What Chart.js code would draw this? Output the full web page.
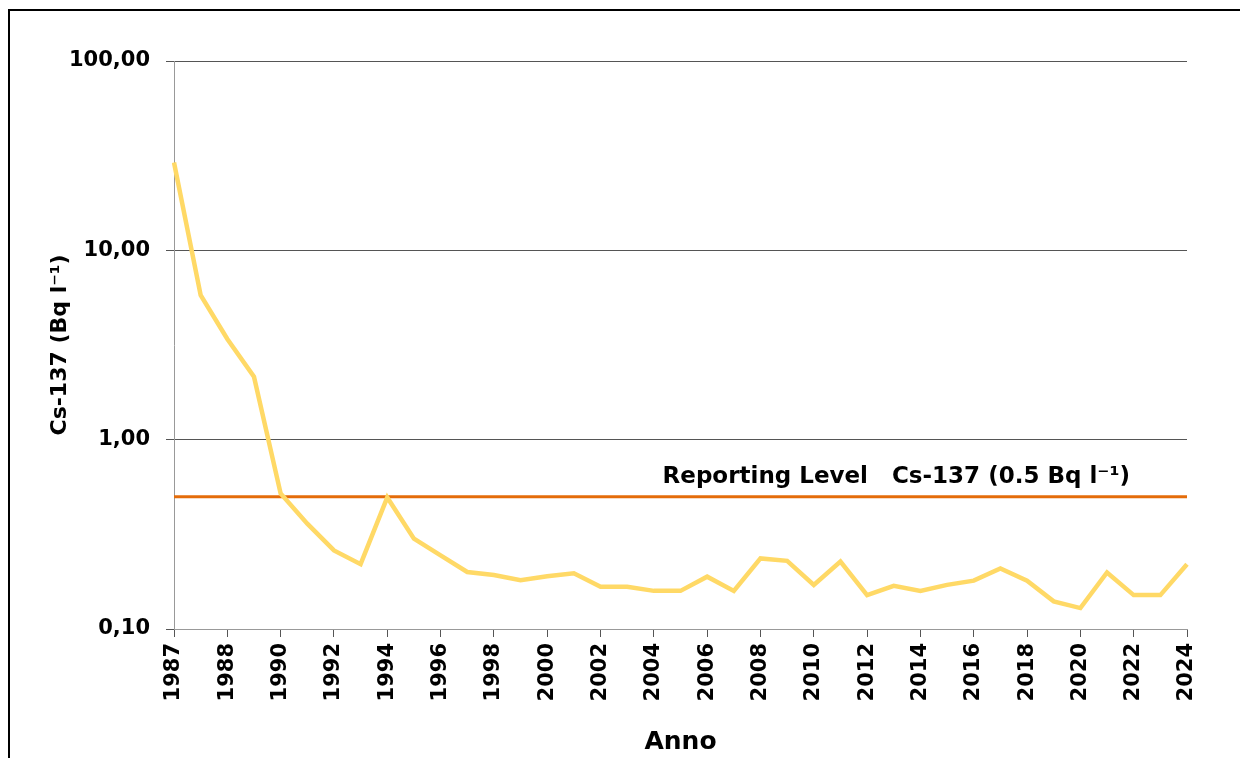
<!DOCTYPE html>
<html>
<head>
<meta charset="utf-8">
<script src="https://cdn.jsdelivr.net/npm/chart.js@4/dist/chart.umd.min.js"></script>
<style>
  html, body { margin: 0; padding: 0; background: #fff; overflow: hidden; }
  #wrap { position: relative; width: 1240px; height: 758px; overflow: hidden; }
  #cornice { position: absolute; left: 8px; top: 9px; width: 1300px; height: 800px; border-top: 2px solid #000; border-left: 2px solid #000; }
  canvas { position: absolute; left: 0; top: 0; }
</style>
</head>
<body>
<div id="wrap">
  <div id="cornice"></div>
  <canvas id="grafico" width="1240" height="758"></canvas>
</div>
<script>
    "use strict";

    // Anni (categorie): nel 1987 ci sono due misure
    var anni = ['1987', '1987',
        '1988', '1989', '1990', '1991', '1992', '1993', '1994', '1995', '1996', '1997',
        '1998', '1999', '2000', '2001', '2002', '2003', '2004', '2005', '2006', '2007',
        '2008', '2009', '2010', '2011', '2012', '2013', '2014', '2015', '2016', '2017',
        '2018', '2019', '2020', '2021', '2022', '2023', '2024'];

    // Cs-137 (Bq/l)
    var cs137 = [29.1, 5.8,
        3.4, 2.15, 0.52, 0.36, 0.26, 0.22, 0.495, 0.30, 0.245, 0.20,
        0.193, 0.181, 0.19, 0.197, 0.167, 0.167, 0.159, 0.159, 0.189, 0.159,
        0.236, 0.229, 0.171, 0.227, 0.151, 0.169, 0.159, 0.171, 0.180, 0.209,
        0.180, 0.140, 0.129, 0.199, 0.151, 0.151, 0.220];

    // Reporting level
    var reportingLevel = 0.5;
    var tickY = [0.1, 1, 10, 100];

    var FONT = "'DejaVu Sans', Verdana, sans-serif";
    Chart.defaults.font.family = FONT;
    Chart.defaults.color = "#000000";

    // Etichetta del reporting level sopra la linea
    var etichettaRL = {
        id: 'etichettaRL',
        afterDatasetsDraw: function(chart) {
            var ctx = chart.ctx;
            var y = chart.scales.y.getPixelForValue(reportingLevel);
            ctx.save();
            ctx.font = "bold 23px " + FONT;
            ctx.fillStyle = "#000";
            ctx.textAlign = "right";
            ctx.textBaseline = "alphabetic";
            ctx.fillText("Reporting Level   Cs-137 (0.5 Bq l\u207B\u00B9)", chart.chartArea.right - 57, y - 14);
            ctx.restore();
        }
    };

    var ctx1 = document.getElementById('grafico').getContext('2d');
    var myChart1 = new Chart(ctx1, {
        type: 'line',
        data: {
            labels: anni,
            datasets: [{
                label: 'Reporting Level',
                data: [{ x: anni[0], y: reportingLevel }, { x: anni[anni.length - 1], y: reportingLevel }],
                borderColor: '#E46C0A',
                borderWidth: 3,
                pointRadius: 0,
                order: 2
            }, {
                label: 'Cs-137',
                data: cs137,
                borderColor: '#FFD966',
                borderWidth: 4.5,
                pointRadius: 0,
                tension: 0,
                order: 1
            }]
        },
        options: {
            responsive: false,
            animation: false,
            layout: { padding: { left: 43, top: 61, right: 53, bottom: 0 } },
            plugins: {
                legend: { display: false },
                tooltip: { enabled: false }
            },
            scales: {
                x: {
                    type: 'category',
                    offset: false,
                    afterFit: function(scale) { scale.height = 129; },
                    grid: { drawOnChartArea: false, drawTicks: true, tickLength: 8, color: '#555' },
                    border: { color: '#999', width: 1 },
                    ticks: {
                        autoSkip: false,
                        minRotation: 90,
                        maxRotation: 90,
                        padding: 6,
                        font: { size: 21, weight: 'bold' },
                        callback: function(value, index) {
                            return index % 2 === 0 ? anni[index] : null;
                        }
                    },
                    title: {
                        display: true,
                        text: 'Anno',
                        font: { size: 25, weight: 'bold' },
                        padding: { top: 0, bottom: 1 }
                    }
                },
                y: {
                    type: 'logarithmic',
                    min: 0.1,
                    max: 100,
                    afterFit: function(scale) { scale.width = 174 - 43; },
                    afterBuildTicks: function(scale) {
                        scale.ticks = tickY.map(function(v) { return { value: v }; });
                    },
                    grid: { color: '#555', tickLength: 8, drawTicks: true },
                    border: { color: '#999', width: 1 },
                    ticks: {
                        padding: 16,
                        font: { size: 21, weight: 'bold' },
                        callback: function(value) {
                            return Number(value).toFixed(2).replace('.', ',');
                        }
                    },
                    title: {
                        display: true,
                        text: 'Cs-137 (Bq l\u207B\u00B9)',
                        font: { size: 22, weight: 'bold' },
                        padding: { top: 4, bottom: 0 }
                    }
                }
            }
        },
        plugins: [etichettaRL]
    });
</script>
</body>
</html>
